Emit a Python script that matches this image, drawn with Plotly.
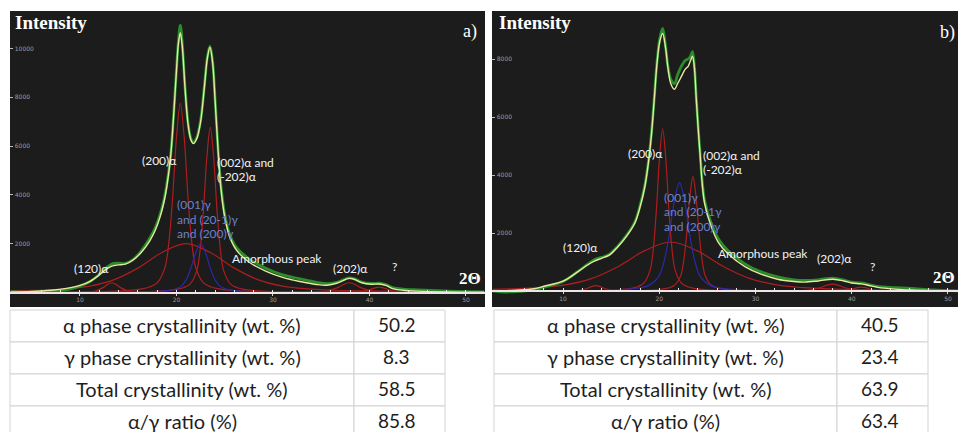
import plotly.graph_objects as go

W, H = 958, 432

# ---------------- Panel a) data (2θ in degrees, intensity in counts) ----------------
a_obs_x = [2.8, 4, 5.5, 7, 8.5, 10, 11, 12, 12.7, 13.3, 14, 14.7, 15.5, 16.3, 17.2, 17.8, 18.3, 18.7, 19.0,
           19.4, 19.7, 20.0, 20.2, 20.4, 20.6, 20.9, 21.2, 21.5, 21.75, 22.1, 22.5, 22.9, 23.2, 23.47, 23.75,
           24.0, 24.3, 24.6, 25.0, 25.5, 26.2, 27.5, 29.3, 31, 32.8, 34.5, 35.6, 36.6, 37.3, 37.9, 38.5, 39.2,
           40.2, 41, 41.7, 42.5, 43.5, 45, 47, 49, 51.9]
a_obs_y = [30, 10, 20, 40, 110, 260, 440, 740, 1000, 1170, 1200, 1190, 1350, 1680, 2200, 2650, 3200, 3800, 4450,
           5650, 7250, 9150, 10300, 10950, 10200, 8350, 6950, 6300, 6150, 6350, 7050, 8500, 9650, 10100, 9450,
           7950, 5950, 4400, 3200, 2400, 1850, 1380, 980, 720, 560, 420, 360, 420, 520, 600, 550, 430,
           370, 380, 320, 190, 140, 110, 80, 50, 20]

a_fit_x = [2.8, 5, 7, 8.6, 10, 11, 12, 12.7, 13.3, 14, 14.7, 15.5, 16.3, 17.2, 17.8, 18.3, 18.7, 19.0, 19.4,
           19.7, 20.0, 20.2, 20.4, 20.6, 20.9, 21.2, 21.5, 21.75, 22.1, 22.5, 22.9, 23.2, 23.47, 23.75, 24.0,
           24.3, 24.6, 25.0, 25.5, 26.2, 27.5, 29.3, 31, 32.8, 34.5, 35.6, 36.6, 37.3, 37.9, 38.5, 39.2, 40.2,
           41, 41.7, 42.5, 43.5, 45, 48, 51.9]
a_fit_y = [20, 40, 90, 170, 290, 450, 720, 950, 1080, 1130, 1160, 1330, 1620, 2100, 2550, 3100, 3700, 4340, 5600,
           7200, 9100, 10200, 10650, 10100, 8300, 6900, 6250, 6100, 6300, 7000, 8450, 9600, 10050, 9400, 7900,
           5900, 4300, 3100, 2300, 1750, 1250, 870, 620, 450, 330, 300, 380, 500, 580, 530, 400, 340,
           350, 290, 150, 90, 55, 25, 10]

a_p200_x = [2.8, 12.4, 14.8, 16.4, 17.2, 18.0, 18.8, 19.2, 19.6, 20.0, 20.4, 20.8, 21.2, 21.6, 22.0, 22.8, 23.6,
            24.4, 26.0, 28.4, 51.9]
a_p200_y = [5, 39, 78, 147, 225, 395, 1015, 2007, 3875, 6355, 7750, 6355, 3875, 2007, 1015, 395, 225,
            147, 78, 39, 5]

a_p002_x = [2.8, 16.5, 18.6, 20.0, 20.7, 21.4, 22.1, 22.45, 22.8, 23.15, 23.5, 23.85, 24.2, 24.55, 24.9, 25.6,
            26.3, 27.0, 28.4, 30.5, 51.9]
a_p002_y = [5, 34, 68, 129, 196, 345, 887, 1753, 3385, 5551, 6770, 5551, 3385, 1753, 887, 345,
            196, 129, 68, 34, 5]

a_amor_x = [2.8, 6, 8.5, 11, 13.5, 16, 18.5, 21, 23.5, 26, 28.5, 31, 33.5, 36, 41, 46, 51.9]
a_amor_y = [76, 102, 152, 262, 518, 1000, 1640, 2000, 1640, 1000, 518, 262, 152, 102, 58, 38, 25]

a_gam_x = [2.8, 12.5, 15.5, 17.5, 18.5, 19.5, 20.5, 21.0, 21.5, 22.0, 22.5, 23.0, 23.5, 24.0, 24.5, 25.5, 26.5,
           27.5, 29.5, 32.5, 51.9]
a_gam_y = [3, 10, 20, 38, 58, 102, 262, 518, 1000, 1640, 2000, 1640, 1000, 518, 262, 102, 58,
           38, 20, 10, 3]

a_p120_x = [8.8, 10.6, 11.5, 12.4, 12.85, 13.3, 13.75, 14.2, 15.1, 16.0, 17.8]
a_p120_y = [8, 20, 52, 200, 328, 400, 328, 200, 52, 20, 8]

a_p202_x = [31.9, 34.3, 35.5, 36.7, 37.3, 37.9, 38.5, 39.1, 40.3, 41.5, 43.9]
a_p202_y = [8, 20, 52, 200, 328, 400, 328, 200, 52, 20, 8]

a_pq_x = [36, 38, 39, 40, 40.5, 41, 41.5, 42, 43, 44, 46]
a_pq_y = [4, 11, 29, 110, 180, 220, 180, 110, 29, 11, 4]

# ---------------- Panel b) data ----------------
b_obs_x = [2.7, 4, 5.5, 7, 8.1, 10, 11.56, 12.5, 13.3, 14, 14.8, 15.7, 16.6, 17.45, 18.0, 18.5, 18.9, 19.2, 19.5,
           19.75, 20.05, 20.35, 20.65, 20.9, 21.2, 21.57, 21.9, 22.3, 22.7, 23.0, 23.25, 23.45, 23.65, 23.85,
           24.2, 24.7, 25.4, 26.2, 27.1, 28.9, 30.5, 32.3, 34, 35.1, 36.5, 38.05, 39.2, 40, 41, 42, 42.7, 44.5,
           46.2, 48.5, 51]
b_obs_y = [10, -20, 0, 50, 150, 340, 690, 920, 1100, 1170, 1270, 1560, 1930, 2380, 2950, 3650, 4550, 5500, 6750,
           7850, 8700, 9050, 8450, 7750, 7300, 7150, 7450, 7750, 7950, 8000, 8100, 8250, 7750, 6650,
           4950, 3150, 2350, 1780, 1420, 950, 680, 500, 400, 380, 400, 460, 390, 320, 290, 220, 170, 130,
           100, 50, 15]

b_fit_x = [2.7, 5, 7, 8.1, 10, 11.56, 12.5, 13.3, 14, 14.8, 15.7, 16.6, 17.45, 18.0, 18.5, 18.9, 19.2, 19.5,
           19.75, 20.05, 20.35, 20.65, 20.9, 21.2, 21.57, 21.9, 22.3, 22.7, 23.0, 23.25, 23.45, 23.65, 23.85,
           24.2, 24.7, 25.4, 26.2, 27.1, 28.9, 30.5, 32.3, 34, 35.1, 36.5, 38.05, 39.2, 40, 41, 42, 42.7, 44.5,
           46.2, 48.5, 51]
b_fit_y = [15, 40, 90, 186, 350, 680, 900, 1050, 1140, 1250, 1540, 1900, 2345, 2900, 3600, 4500, 5440, 6700,
           7800, 8600, 8880, 8400, 7700, 7150, 6960, 7150, 7400, 7650, 7750, 7950, 8100, 7700, 6600,
           4900, 3050, 2230, 1650, 1310, 850, 600, 420, 340, 320, 360, 420, 360, 290, 260, 190, 140, 80,
           48, 25, 10]

b_p200_x = [2.7, 13.85, 15.8, 17.1, 17.75, 18.4, 19.05, 19.375, 19.7, 20.025, 20.35, 20.675, 21.0, 21.325, 21.65,
            22.3, 22.95, 23.6, 24.9, 26.85, 51]
b_p200_y = [4, 28, 56, 106, 162, 286, 734, 1450, 2800, 4592, 5600, 4592, 2800, 1450, 734,
            286, 162, 106, 56, 28, 4]

b_p002_x = [2.7, 17.0, 18.95, 20.25, 20.9, 21.55, 22.2, 22.525, 22.85, 23.175, 23.5, 23.825, 24.15, 24.475, 24.8,
            25.45, 26.1, 26.75, 28.05, 30.0, 51]
b_p002_y = [3, 20, 40, 75, 115, 201, 517, 1023, 1975, 3239, 3950, 3239, 1975, 1023, 517,
            201, 115, 75, 40, 20, 3]

b_gam_x = [2.7, 11.1, 14.4, 16.6, 17.7, 18.8, 19.9, 20.45, 21.0, 21.55, 22.1, 22.65, 23.2, 23.75, 24.3, 25.4,
           26.5, 27.6, 29.8, 33.1, 51]
b_gam_y = [6, 19, 38, 71, 109, 191, 491, 971, 1875, 3075, 3750, 3075, 1875, 971, 491, 191,
           109, 71, 38, 19, 6]

b_amor_x = [2.7, 4.7, 7.45, 10.2, 12.95, 15.7, 18.45, 21.2, 23.95, 26.7, 29.45, 32.2, 34.95, 37.7, 43.2, 51]
b_amor_y = [71, 87, 129, 223, 440, 850, 1394, 1700, 1394, 850, 440, 223, 129, 87, 49, 28]

b_p120_x = [8.9, 10.7, 11.6, 12.5, 12.95, 13.4, 13.85, 14.3, 15.2, 16.1, 17.9]
b_p120_y = [4, 10, 26, 100, 164, 200, 164, 100, 26, 10, 4]

b_p202_x = [31.5, 34.1, 35.4, 36.7, 37.35, 38.0, 38.65, 39.3, 40.6, 41.9, 44.5]
b_p202_y = [5, 13, 33, 125, 205, 250, 205, 125, 33, 13, 5]

b_pq_x = [36, 38, 39, 40, 40.5, 41, 41.5, 42, 43, 44, 46]
b_pq_y = [3, 8, 20, 75, 123, 150, 123, 75, 20, 8, 3]

# tick labels
x_ticks = [10, 20, 30, 40, 50]
y_ticks = [2000, 4000, 6000, 8000, 10000]

# peak labels
a_labels = ["(200)α", "(002)α and", "(-202)α", "(001)γ", "and (20-1)γ", "and (200)γ",
            "Amorphous peak", "(120)α", "(202)α", "?"]
b_labels = ["(200)α", "(002)α and", "(-202)α", "(001)γ", "and (20-1γ", "and (200)γ",
            "Amorphous peak", "(120)α", "(202)α", "?"]
label_is_gamma = [False, False, False, True, True, True, False, False, False, False]

# tables
table_labels = ["α phase crystallinity (wt. %)", "γ phase crystallinity (wt. %)",
                "Total crystallinity (wt. %)", "α/γ ratio (%)"]
table_a_values = ["50.2", "8.3", "58.5", "85.8"]
table_b_values = ["40.5", "23.4", "63.9", "63.4"]

# ---------------- styling ----------------
RED = "#ad1e1e"
BLUE = "#2a2aa6"
GREEN = "#2b8c2c"
YELLOW = "#e6e99e"
BG = "#1c1c1c"


def px(x):
    return x / W


def py(y):
    return 1 - y / H


fig = go.Figure()


def add_panel(xa, ya, comps_red, comp_blue, obs, fit):
    for cx, cy in comps_red:
        fig.add_trace(go.Scatter(x=cx, y=cy, mode="lines", line=dict(color=RED, width=1.2, shape="spline"),
                                 xaxis=xa, yaxis=ya, hoverinfo="skip", showlegend=False))
    fig.add_trace(go.Scatter(x=comp_blue[0], y=comp_blue[1], mode="lines",
                             line=dict(color=BLUE, width=1.2, shape="spline"),
                             xaxis=xa, yaxis=ya, hoverinfo="skip", showlegend=False))
    fig.add_trace(go.Scatter(x=obs[0], y=obs[1], mode="lines", line=dict(color=GREEN, width=2.8, shape="spline"),
                             xaxis=xa, yaxis=ya, hoverinfo="skip", showlegend=False))
    fig.add_trace(go.Scatter(x=fit[0], y=fit[1], mode="lines", line=dict(color=YELLOW, width=1.4, shape="spline"),
                             xaxis=xa, yaxis=ya, hoverinfo="skip", showlegend=False))


add_panel("x", "y",
          [(a_amor_x, a_amor_y), (a_p120_x, a_p120_y), (a_p200_x, a_p200_y), (a_p002_x, a_p002_y),
           (a_p202_x, a_p202_y), (a_pq_x, a_pq_y)],
          (a_gam_x, a_gam_y), (a_obs_x, a_obs_y), (a_fit_x, a_fit_y))
add_panel("x2", "y2",
          [(b_amor_x, b_amor_y), (b_p120_x, b_p120_y), (b_p200_x, b_p200_y), (b_p002_x, b_p002_y),
           (b_p202_x, b_p202_y), (b_pq_x, b_pq_y)],
          (b_gam_x, b_gam_y), (b_obs_x, b_obs_y), (b_fit_x, b_fit_y))

tickfont = dict(family="DejaVu Sans", size=6, color="#9c9c9c")


def xaxis_cfg(dom, rng, pos):
    return dict(domain=dom, range=rng, anchor="free", position=pos, showgrid=False, zeroline=False,
                showline=True, linecolor="#f1e2e6", linewidth=2,
                tickvals=x_ticks, ticktext=[str(v) for v in x_ticks], ticks="outside", ticklen=2,
                tickcolor="#dddddd", tickfont=tickfont, ticklabelstandoff=-1,
                minor=dict(dtick=2, tick0=0, ticks="inside", ticklen=2, tickcolor="#e8e8e8"),
                fixedrange=True)


def yaxis_cfg(dom, rng, anchor):
    return dict(domain=dom, range=rng, anchor=anchor, showgrid=False, zeroline=False, showline=False,
                tickvals=y_ticks, ticktext=[str(v) for v in y_ticks], ticks="inside", ticklen=3,
                tickcolor="#bbbbbb", ticklabelposition="inside", tickfont=tickfont, fixedrange=True)


ydom = [py(307), py(11)]
fig.update_layout(
    width=W, height=H, margin=dict(l=0, r=0, t=0, b=0),
    paper_bgcolor="white", plot_bgcolor=BG, showlegend=False,
    xaxis=xaxis_cfg([px(10), px(485)], [2.75, 51.97], py(292.5)),
    yaxis=yaxis_cfg(ydom, [-594, 11537], "x"),
    xaxis2=xaxis_cfg([px(492), 1.0], [2.62, 51.04], py(291.4)),
    yaxis2=yaxis_cfg(ydom, [-537, 9653], "x2"),
)

ann = []
serif = "Liberation Serif"
for x0 in (13, 497):
    ann.append(dict(text="<b>Intensity</b>", x=px(x0), y=py(10), xref="paper", yref="paper",
                    xanchor="left", yanchor="top", showarrow=False,
                    font=dict(family=serif, size=19, color="white")))
ann.append(dict(text="a)", x=px(479), y=py(31), xref="paper", yref="paper", xanchor="right", yanchor="middle",
                showarrow=False, font=dict(family=serif, size=18, color="white")))
ann.append(dict(text="b)", x=px(957), y=py(33), xref="paper", yref="paper", xanchor="right", yanchor="middle",
                showarrow=False, font=dict(family=serif, size=18, color="white")))
ann.append(dict(text="<b>2Θ</b>", x=px(483), y=py(278), xref="paper", yref="paper", xanchor="right",
                yanchor="middle", showarrow=False, font=dict(family=serif, size=17, color="white")))
ann.append(dict(text="<b>2Θ</b>", x=px(957), y=py(277), xref="paper", yref="paper", xanchor="right",
                yanchor="middle", showarrow=False, font=dict(family=serif, size=17, color="white")))

a_label_pos = [(140, 161), (215, 162), (215, 176), (175, 204), (175, 219), (175, 233),
               (230, 258), (72, 268), (331, 268), (390, 266)]
b_label_pos = [(626, 154), (701, 155), (701, 169), (662, 197), (662, 212), (662, 226),
               (716, 254), (561, 247), (815, 258), (868, 266)]
for labels, poss in ((a_labels, a_label_pos), (b_labels, b_label_pos)):
    for t, (lx, ly), g in zip(labels, poss, label_is_gamma):
        ann.append(dict(text=t, x=px(lx), y=py(ly), xref="paper", yref="paper", xanchor="left",
                        yanchor="middle", showarrow=False,
                        font=dict(family="Lato", size=12, color="#6a82cc" if g else "#f2f2f2")))

shapes = []
row_top, row_h = 310, 32
tables = [((10, 354, 445), table_a_values), ((494, 837, 928), table_b_values)]
for (x0, xm, x1), vals in tables:
    for r, (lab, val) in enumerate(zip(table_labels, vals)):
        y0 = row_top + r * row_h
        y1 = y0 + row_h
        for cx0, cx1 in ((x0, xm), (xm, x1)):
            shapes.append(dict(type="rect", xref="paper", yref="paper", x0=px(cx0), x1=px(cx1),
                               y0=py(y1), y1=py(y0), line=dict(color="#d3d3d3", width=1),
                               fillcolor="white", layer="below"))
        ty = y0 + row_h / 2 - 1.5
        ann.append(dict(text=lab, x=px((x0 + xm) / 2), y=py(ty), xref="paper", yref="paper",
                        xanchor="center", yanchor="middle", showarrow=False,
                        font=dict(family="Lato", size=20, color="#1e1e1e")))
        ann.append(dict(text=val, x=px((xm + x1) / 2 - 3), y=py(ty), xref="paper", yref="paper",
                        xanchor="center", yanchor="middle", showarrow=False,
                        font=dict(family="Lato", size=19, color="#1e1e1e")))

fig.update_layout(annotations=ann, shapes=shapes)
fig.write_html("out.html", config={"displayModeBar": False},
               post_script="document.body.style.margin='0px';document.body.style.overflow='hidden';")
